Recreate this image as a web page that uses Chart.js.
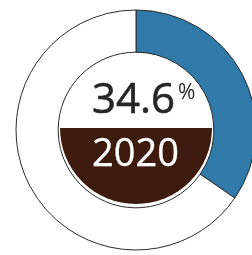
<!DOCTYPE html>
<html>
<head>
<meta charset="utf-8">
<script src="https://cdn.jsdelivr.net/npm/chart.js@4"></script>
<style>
  html, body { margin: 0; padding: 0; background: #fff; overflow: hidden; width: 252px; height: 255px; }
  #wrap { position: absolute; left: 0; top: 0; width: 272px; height: 260px; }
  #half { position: absolute; left: 60px; top: 128px; width: 152px; height: 76px; background: #3d1b0e; border-radius: 0 0 76px 76px; }
  .t { position: absolute; font-family: "Open Sans", sans-serif; white-space: nowrap; }
  #num { left: 92px; top: 76px; font-size: 42px; line-height: 42px; font-weight: 400; color: #262626; -webkit-text-stroke: 0.6px #262626; }
  #pct { left: 178px; top: 80px; font-size: 21px; line-height: 22px; font-weight: 400; color: #2a2a2a; }
  #yr { left: 92px; top: 132px; font-size: 38px; line-height: 38px; font-weight: 400; color: #fff; -webkit-text-stroke: 0.3px #fff; }
</style>
</head>
<body>
<div id="wrap"><canvas id="c" width="272" height="260"></canvas></div>
<div id="half"></div>
<div class="t" id="num"></div>
<div class="t" id="pct">%</div>
<div class="t" id="yr"></div>
<script>
const categories = ["2020", "Other"];
const shareValues = [34.6, 65.4];
const yearLabel = "2020";
const colors = ["#2f7aa8", "#ffffff"];

document.getElementById("num").textContent = shareValues[0].toFixed(1);
document.getElementById("yr").textContent = yearLabel;

new Chart(document.getElementById("c"), {
  type: "doughnut",
  data: {
    labels: categories,
    datasets: [{
      data: shareValues,
      backgroundColor: colors,
      borderColor: "#2b2b2b",
      borderWidth: 1
    }]
  },
  options: {
    responsive: false,
    animation: false,
    radius: 120,
    cutout: 84,
    layout: { padding: 0 },
    plugins: { legend: { display: false }, tooltip: { enabled: false } }
  }
});
</script>
</body>
</html>
